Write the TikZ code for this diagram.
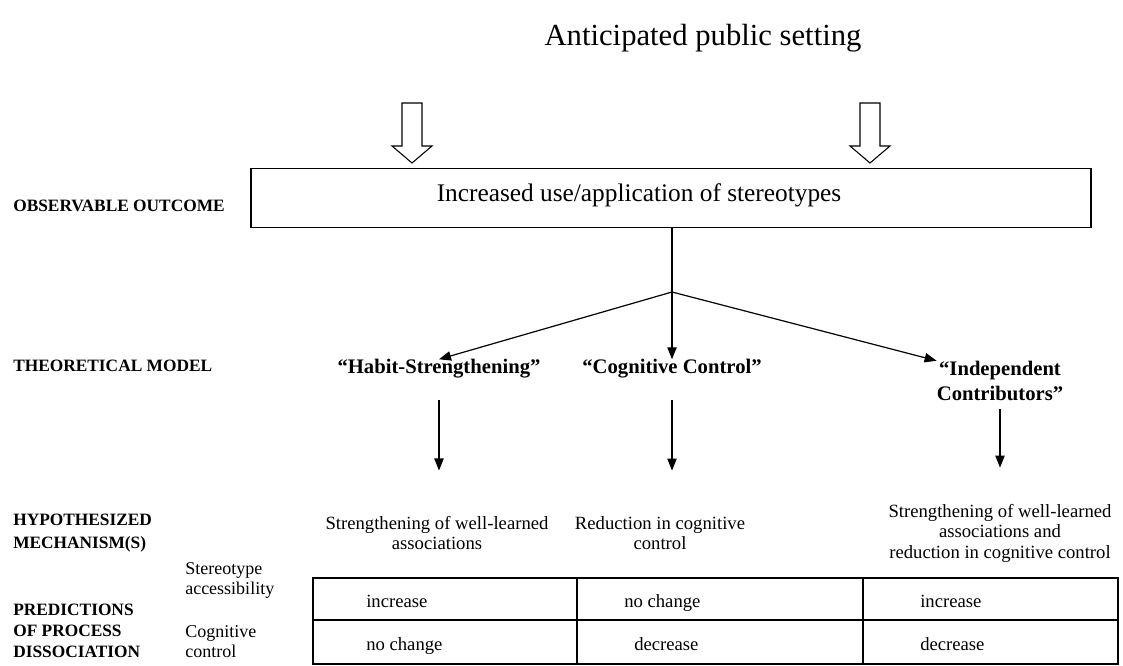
\documentclass[tikz,border=0pt]{standalone}
\usepackage{fontspec}
\setmainfont{Liberation Serif}
\usetikzlibrary{arrows.meta}
\usetikzlibrary{calc}

\tikzset{
  rowlabel/.style={anchor=west, font=\fontsize{13}{17}\selectfont\bfseries, align=left, inner sep=0pt},
  sublabel/.style={anchor=west, font=\fontsize{13.5}{15}\selectfont, align=left, inner sep=0pt},
  model/.style={font=\fontsize{15.5}{19}\selectfont\bfseries, align=center, inner sep=0pt},
  mech/.style={font=\fontsize{14}{15.4}\selectfont, align=center, inner sep=0pt},
  cell/.style={anchor=base west, font=\fontsize{14}{16}\selectfont, inner sep=0pt},
  arr/.style={-{Triangle[length=9pt,width=7pt]}, line width=0.9pt},
  hollow/.style={draw, line width=0.8pt, fill=white},
}

\begin{document}
\begin{tikzpicture}[x=0.75pt,y=-0.75pt]
    \useasboundingbox (0,0) rectangle (1123,666);

    \def\hw{10}
    \def\hh{20}
    \def\tl{313}
    \def\tr{1118}
    \def\ta{578}
    \def\tm{620}
    \def\tb{664}
    \def\ca{577}
    \def\cb{863}

    % Title
    \node[font=\fontsize{23}{27}\selectfont] (title) at (703,38) {Anticipated public setting};

    % Hollow Arrows
    \foreach \ax in {412,870}{
        \draw[hollow] (\ax-\hw,103) -- (\ax+\hw,103) -- (\ax+\hw,146) -- (\ax+\hh,146)
            -- (\ax,163) -- (\ax-\hh,146) -- (\ax-\hw,146) -- cycle;
    }

    % Outcome Box
    \node[draw, line width=0.9pt, minimum width=630pt, minimum height=44pt, inner sep=0pt] (outcome) at (671,198) {};
    \node[font=\fontsize{19}{22}\selectfont, inner sep=0pt] (outtext) at (639,195) {Increased use/application of stereotypes};

    % Row Labels
    \node[rowlabel] (obs) at (13,206) {OBSERVABLE OUTCOME};
    \node[rowlabel] (theo) at (13,366) {THEORETICAL MODEL};
    \node[rowlabel] (hyp) at (13,533) {HYPOTHESIZED\\MECHANISM(S)};
    \node[rowlabel, font=\fontsize{13}{15.75}\selectfont\bfseries] (pred) at (13,631) {PREDICTIONS\\OF PROCESS\\DISSOCIATION};
    \node[sublabel] (acc) at (185,580) {Stereotype\\accessibility};
    \node[sublabel] (ctl) at (185,642) {Cognitive\\control};

    % Models
    \node[model] (habit) at (439,369) {``Habit-Strengthening''};
    \node[model] (cogn) at (672,369) {``Cognitive Control''};
    \node[model] (indep) at (1000,381) {``Independent\\Contributors''};

    % Branching Arrows
    \coordinate (split) at (672,292);
    \draw[line width=0.9pt] (split |- outcome.south) -- (split);
    \draw[arr] (split) -- (habit.north);
    \draw[arr] (split) -- (cogn.north);
    \draw[arr] (split) -- (indep.north west);

    % Mechanisms
    \node[mech] (hmech) at (437,533) {Strengthening of well-learned\\associations};
    \node[mech] (cmech) at (660,533) {Reduction in cognitive\\control};
    \node[mech] (imech) at (1000,533) {Strengthening of well-learned\\associations and\\reduction in cognitive control};

    \draw[arr, shorten <=16pt, shorten >=34pt] (habit.south) -- (habit.south |- hmech.north);
    \draw[arr, shorten <=16pt, shorten >=34pt] (cogn.south) -- (cogn.south |- cmech.north);
    \draw[arr, shorten <=6pt, shorten >=27pt] (indep.south) -- (indep.south |- imech.north);

    % Prediction Table
    \draw[line width=0.8pt] (\tl,\ta) rectangle (\tr,\tb);
    \draw[line width=0.8pt] (\tl,\tm) -- (\tr,\tm);
    \draw[line width=0.8pt] (\ca,\ta) -- (\ca,\tb);
    \draw[line width=0.8pt] (\cb,\ta) -- (\cb,\tb);

    \node[cell] (c11) at (366,607) {increase};
    \node[cell] (c12) at (624,607) {no change};
    \node[cell] (c13) at (920,607) {increase};
    \node[cell] (c21) at (366,650) {no change};
    \node[cell] (c22) at (634,650) {decrease};
    \node[cell] (c23) at (920,650) {decrease};

\end{tikzpicture}
\end{document}
